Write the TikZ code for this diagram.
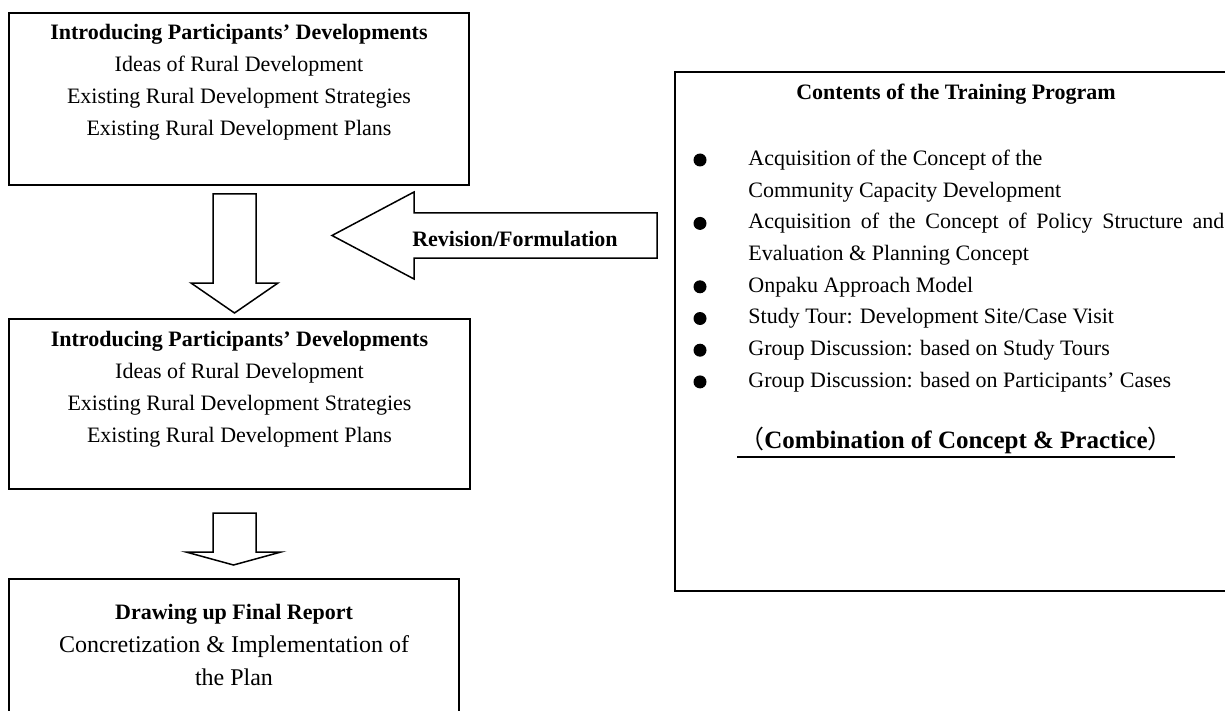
\documentclass[tikz,border=0pt]{standalone}
\usepackage{fontspec}
\setmainfont{Liberation Serif}
\newfontfamily\cjkfont{Noto Sans CJK JP}
\usetikzlibrary{calc}
\tikzset{
  frame/.style={draw, line width=1pt, inner sep=0pt},
  blockarrow/.style={draw, line width=0.75pt, fill=white, line join=miter},
  body/.style={font=\fontsize{11}{16}\selectfont, align=center, inner sep=0pt},
  listtext/.style={font=\fontsize{11}{15.85}\selectfont, align=left, inner sep=0pt, anchor=west},
  dot/.style={circle, fill=black, inner sep=0pt, minimum size=6.5pt},
  label/.style={font=\fontsize{11}{13}\selectfont\bfseries, inner sep=0pt}
}
\begin{document}
\begin{tikzpicture}[x=0.5pt, y=-0.5pt]
\clip (0,0) rectangle (1225,711);
\fill[white] (0,0) rectangle (1225,711);

% left column boxes
\node[frame, minimum width=230pt, minimum height=86pt] (box1) at (239,99) {};
\node[frame, minimum width=230.5pt, minimum height=85pt] (box2) at (239.5,404) {};
\node[frame, minimum width=225pt, minimum height=80pt] (box3) at (234,659) {};

\node[body] (t1) at (239,82.5) {\textbf{Introducing Participants’ Developments}\\
  Ideas of Rural Development\\
  Existing Rural Development Strategies\\
  Existing Rural Development Plans};
\node[body] (t2) at (239.5,389) {\textbf{Introducing Participants’ Developments}\\
  Ideas of Rural Development\\
  Existing Rural Development Strategies\\
  Existing Rural Development Plans};
\node[body, font=\fontsize{11}{16.5}\selectfont] (t3) at (234,645) {\textbf{Drawing up Final Report}\\
  {\fontsize{12}{16.5}\selectfont Concretization \& Implementation of}\hspace*{14pt}\\
  {\fontsize{12}{16.5}\selectfont the Plan}};

% block arrows between the left boxes
\draw[blockarrow] (213,194) -- (256,194) -- (256,283) -- (278,283)
  -- (234.5,313) -- (191,283) -- (213,283) -- cycle;
\draw[blockarrow] (213,513) -- (256,513) -- (256,552) -- (281,552)
  -- (233.5,565) -- (186,552) -- (213,552) -- cycle;

% revision arrow pointing from the programme box to the left column
\draw[blockarrow] (332,235.5) -- (414,192) -- (414,213) -- (657,213)
  -- (657,258) -- (414,258) -- (414,279) -- cycle;
\node[label] (rev) at (515,239) {Revision/Formulation};

% programme contents box
\node[frame, minimum width=290pt, minimum height=259.5pt] (prog) at (965,331.5) {};
\node[label] (ptitle) at (956,94) {Contents of the Training Program};

\node[listtext] (list) at (748,271) {Acquisition of the Concept of the\\
  Community Capacity Development\\
  \makebox[238pt][s]{Acquisition of the Concept of Policy Structure and}\\
  Evaluation \& Planning Concept\\
  Onpaku Approach Model\\
  Study Tour: Development Site/Case Visit\\
  Group Discussion: based on Study Tours\\
  Group Discussion: based on Participants’ Cases};

\node[dot] (d1) at (700,160) {};
\node[dot] (d2) at (700,223.4) {};
\node[dot] (d3) at (700,286.8) {};
\node[dot] (d4) at (700,318.5) {};
\node[dot] (d5) at (700,350.2) {};
\node[dot] (d6) at (700,381.9) {};

\node[label, font=\fontsize{12.5}{14}\selectfont\bfseries] (combo) at (956,440)
  {{\cjkfont\mdseries （}Combination of Concept \& Practice{\cjkfont\mdseries ）}};
\coordinate (u1) at (737,457);
\coordinate (u2) at (1175,457);
\draw[line width=0.6pt] (u1) -- (u2);
\end{tikzpicture}
\end{document}
